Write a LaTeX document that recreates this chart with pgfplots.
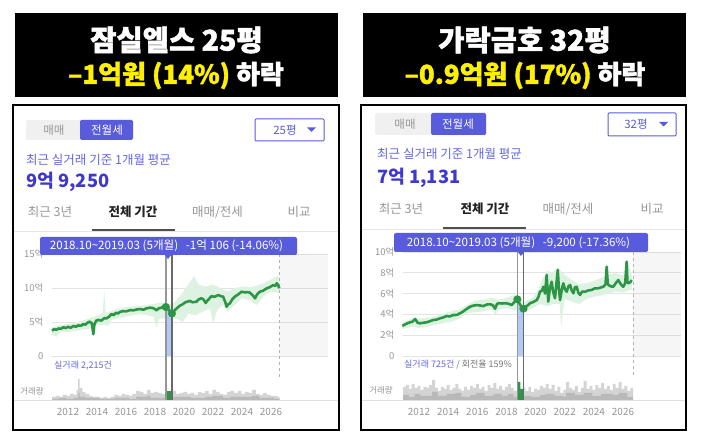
\documentclass[border=0pt]{standalone}
\usepackage{fontspec}
\setmainfont{Noto Sans CJK KR}
\newfontfamily\titlefont{Noto Sans CJK KR}[BoldFeatures={FakeBold=1.6}]
\usepackage{pgfplots}
\pgfplotsset{compat=1.18}
\definecolor{indigo}{RGB}{88,92,220}
\definecolor{uiblue}{RGB}{98,102,226}
\definecolor{bigblue}{RGB}{62,56,204}
\definecolor{txtgray}{RGB}{150,150,150}
\definecolor{tabdark}{RGB}{35,35,35}
\definecolor{lgreen}{RGB}{45,150,70}
\definecolor{bandgreen}{RGB}{222,242,225}
\definecolor{selblue}{RGB}{178,200,245}
\definecolor{ttyellow}{RGB}{255,240,0}
\definecolor{volgray}{RGB}{212,212,212}
\definecolor{voldark}{RGB}{185,185,185}
\definecolor{selgray}{RGB}{150,150,150}
\newcommand{\fs}[1]{\fontsize{#1}{#1}\selectfont}
\pgfplotsset{
  price/.style={scale only axis, clip=false, axis line style={draw=none}, major tick length=0pt,
    ymajorgrids, grid style={draw=gray!22, line width=0.6pt}, xtick=\empty,
    yticklabel style={font=\fs{9.5}, text=txtgray, xshift=-5pt},
    /pgf/number format/assume math mode=true},
  vol/.style={scale only axis, clip=false, axis line style={draw=none}, major tick length=0pt,
    ytick=\empty, ymin=0, ymax=22, xtick={2012,2014,2016,2018,2020,2022,2024,2026},
    xticklabels={2012,2014,2016,2018,2020,2022,2024,2026},
    xticklabel style={font=\fs{10}, text=txtgray, yshift=-5pt}}
}
\begin{document}
\begin{tikzpicture}[x=1pt,y=1pt]
\useasboundingbox (0,0) rectangle (702,442);
\fill[white] (0,0) rectangle (702,442);
\begin{scope}[shift={(0,442)}, y=-1pt]
  % title boxes
  \fill[black] (15,13) rectangle (338,97);
  \fill[black] (363,13) rectangle (686,97);
  \node[text=white, font=\titlefont\fs{28.5}\bfseries] at (176.5,40) {잠실엘스 25평};
  \node[font=\titlefont\fs{26}\bfseries] at (176,75.5) {\textcolor{ttyellow}{–1억원 (14\%)} \textcolor{white}{하락}};
  \node[text=white, font=\titlefont\fs{28.5}\bfseries] at (524.5,40) {가락금호 32평};
  \node[font=\titlefont\fs{26}\bfseries] at (525,75.5) {\textcolor{ttyellow}{–0.9억원 (17\%)} \textcolor{white}{하락}};
  % panels
  \draw[black, line width=2pt, fill=white] (13,105) rectangle (339,430);
  \draw[black, line width=2pt, fill=white] (361,105) rectangle (686,430);
  % left panel UI
  \fill[gray!12, rounded corners=1.5pt] (26,120) rectangle (133,140);
  \fill[indigo, rounded corners=1.5pt] (80,120) rectangle (133,140);
  \node[text=txtgray, font=\fs{11.5}] at (54,130) {매매};
  \node[text=white, font=\fs{11.5}] at (107,130) {전월세};
  \draw[indigo, line width=1pt, rounded corners=1pt] (255,119) rectangle (324,141);
  \node[text=indigo, font=\fs{11.5}] at (285,130) {25평};
  \fill[indigo] (307,127.5) -- (316,127.5) -- (311.5,132) -- cycle;
  \node[anchor=west, inner sep=0pt, text=uiblue, font=\fs{12.5}] at (26,160) {최근 실거래 기준 1개월 평균};
  \node[anchor=west, inner sep=0pt, text=bigblue, font=\fs{18.3}\bfseries] at (26,182) {9억 9,250};
  \node[text=txtgray, font=\fs{12.5}] at (50,212) {최근 3년};
  \node[text=tabdark, font=\fs{12.5}\bfseries] at (133,212) {전체 기간};
  \node[text=txtgray, font=\fs{12.5}] at (217.5,212) {매매/전세};
  \node[text=txtgray, font=\fs{12.5}] at (299,212) {비교};
  \draw[gray!20, line width=0.6pt] (14,231.5) -- (338,231.5);
  \draw[tabdark!80, line width=2pt] (92,230) -- (175,230);
  \node[anchor=west, inner sep=0pt, text=uiblue, font=\fs{9}] at (54,366) {실거래 2,215건};
  \node[text=txtgray, font=\fs{8.5}] at (32,391) {거래량};
  \draw[gray!25, line width=0.6pt] (14,400.5) -- (338,400.5);
  % right panel UI
  \fill[gray!12, rounded corners=1.5pt] (375,113) rectangle (486,135);
  \fill[indigo, rounded corners=1.5pt] (431,113) rectangle (486,135);
  \node[text=txtgray, font=\fs{11.5}] at (405,124) {매매};
  \node[text=white, font=\fs{11.5}] at (458,124) {전월세};
  \draw[indigo, line width=1pt, rounded corners=1pt] (608,113) rectangle (676,136);
  \node[text=indigo, font=\fs{11.5}] at (636,124.5) {32평};
  \fill[indigo] (659,122) -- (668,122) -- (663.5,126.5) -- cycle;
  \node[anchor=west, inner sep=0pt, text=uiblue, font=\fs{12.5}] at (377,154) {최근 실거래 기준 1개월 평균};
  \node[anchor=west, inner sep=0pt, text=bigblue, font=\fs{18.3}\bfseries] at (377,178) {7억 1,131};
  \node[text=txtgray, font=\fs{12.5}] at (401,209) {최근 3년};
  \node[text=tabdark, font=\fs{12.5}\bfseries] at (485,209) {전체 기간};
  \node[text=txtgray, font=\fs{12.5}] at (568,209) {매매/전세};
  \node[text=txtgray, font=\fs{12.5}] at (652,209) {비교};
  \draw[gray!20, line width=0.6pt] (362,229.5) -- (685,229.5);
  \draw[tabdark!80, line width=2pt] (443,228) -- (526,228);
  \node[anchor=west, inner sep=0pt, font=\fs{9}] at (404,365) {\textcolor{uiblue}{실거래 725건} \textcolor{txtgray!80!black}{/ 회전율 159\%}};
  \node[text=txtgray, font=\fs{8.5}] at (381,390) {거래량};
  \draw[gray!25, line width=0.6pt] (362,400.5) -- (685,400.5);
\end{scope}

% ===== left volume =====
\begin{axis}[vol, at={(52pt,42pt)}, anchor=south west, width=276pt, height=22pt, xmin=2010.9, xmax=2029.93]
\addplot[const plot, fill=volgray, draw=none] coordinates {
(2010.9,3)(2011.15,4)(2011.4,3)(2011.65,5)(2011.9,4)(2012.15,6)(2012.4,5)(2012.6,10)(2012.7,21)(2012.8,12)
(2013.0,8)(2013.2,6)(2013.45,4)(2013.7,3)(2013.95,3)(2014.2,2)(2014.45,3)(2014.7,2)(2014.95,3)(2015.2,5)
(2015.45,4)(2015.7,6)(2015.95,5)(2016.2,4)(2016.45,6)(2016.7,9)(2016.95,8)(2017.2,6)(2017.45,10)(2017.7,7)
(2017.95,8)(2018.2,7)(2018.45,6)(2018.75,2)(2019.17,9)(2019.45,6)(2019.7,7)(2019.95,8)(2020.2,6)(2020.45,7)
(2020.7,5)(2020.95,8)(2021.2,7)(2021.45,9)(2021.7,6)(2021.95,10)(2022.2,8)(2022.45,6)(2022.7,5)(2022.95,8)
(2023.2,9)(2023.45,7)(2023.7,9)(2023.95,6)(2024.2,8)(2024.45,7)(2024.7,10)(2024.95,6)(2025.2,5)(2025.45,7)
(2025.7,5)(2025.95,4)(2026.2,4)(2026.45,3)(2026.6,3)} \closedcycle;
\addplot[const plot, fill=voldark, draw=none] coordinates {
(2010.9,1)(2011.4,2)(2011.9,1)(2012.4,2)(2012.7,7)(2012.8,3)(2013.2,2)(2014.2,1)(2015.2,2)(2016.2,1)
(2016.7,3)(2017.45,4)(2017.7,2)(2018.45,2)(2018.75,0)(2019.17,3)(2019.95,3)(2020.45,2)(2021.45,3)(2021.95,4)
(2022.7,2)(2023.2,3)(2024.2,3)(2024.7,4)(2025.2,2)(2026.2,1)(2026.6,1)} \closedcycle;
\addplot[fill=lgreen, draw=none] coordinates {(2018.75,0)(2018.75,9)(2019.17,9)(2019.17,0)} -- cycle;
\end{axis}

% ===== left price =====
\begin{axis}[price, at={(52pt,86pt)}, anchor=south west, width=276pt, height=102pt,
  xmin=2010.9, xmax=2029.93, ymin=0, ymax=15, ytick={0,5,10,15}, yticklabels={0,5억,10억,15억}]
\addplot[fill=gray, fill opacity=0.07, draw=none] coordinates {(2026.6,0)(2029.93,0)(2029.93,15)(2026.6,15)} -- cycle;
\addplot[fill=bandgreen, draw=none] coordinates {
(2010.9,4.2)(2011.5,4.6)(2012.5,4.9)(2013.3,5.4)(2014.0,5.9)(2014.4,6.3)(2014.5,9.7)(2014.6,6.3)(2015.2,6.8)
(2016,7.2)(2017,7.4)(2017.8,7.6)(2018.5,7.9)(2019.2,7.6)(2019.8,9)(2020.3,10.5)(2020.7,11.8)(2021,10.5)
(2021.5,10.2)(2022,10.5)(2022.5,10)(2023,9.5)(2023.5,10)(2024,10.2)(2024.5,10.1)(2025,10.3)(2025.6,10.8)
(2026.2,11.5)(2026.57,11.8)
(2026.57,9.3)(2026,9.5)(2025.5,8.8)(2025,7.5)(2024.5,8.2)(2024,8.5)(2023.5,7.5)(2023,6.5)(2022.7,7.5)
(2022.3,6.8)(2022,4.8)(2021.8,7)(2021.3,6.5)(2020.8,6)(2020.3,6.2)(2019.9,5)(2019.5,5.5)(2019,5.5)
(2018.3,5.5)(2018.1,4.2)(2017.9,5.8)(2017,6.2)(2016,5.8)(2015,5.3)(2014.8,4.5)(2014,4.6)(2013.5,4)
(2012.8,3.8)(2012,3.5)(2011.5,3.6)(2011.2,2.8)(2010.9,3.2)} -- cycle;
\addplot[fill=selblue, draw=none] coordinates {(2018.75,0)(2018.75,7.0)(2019.17,7.0)(2019.17,0)} -- cycle;
\addplot[selgray, line width=1.5pt] coordinates {(2018.75,15.5)(2018.75,-6.47)};
\addplot[selgray!70!black, line width=1.5pt] coordinates {(2019.17,15.5)(2019.17,-6.47)};
\addplot[gray!60, dashed, line width=0.6pt] coordinates {(2026.6,15)(2026.6,-3.1)};
\addplot[lgreen, line width=2.6pt, line join=round] coordinates {
(2010.90,3.72)(2011.05,3.95)(2011.2,3.85)(2011.35,4.05)(2011.5,4.0)(2011.68,4.22)(2011.85,4.1)(2012.0,4.3)
(2012.2,4.15)(2012.37,4.41)(2012.55,4.3)(2012.7,4.5)(2012.9,4.45)(2013.06,4.7)(2013.2,4.6)(2013.35,4.9)
(2013.5,5.05)(2013.65,4.8)(2013.75,3.2)(2013.82,4.6)(2013.95,5.2)(2014.1,5.3)(2014.3,5.2)(2014.5,5.55)
(2014.67,5.54)(2014.85,5.8)(2015.0,6.18)(2015.15,6.0)(2015.3,6.35)(2015.45,6.25)(2015.6,6.5)(2015.8,6.6)
(2016.0,6.55)(2016.3,6.76)(2016.5,6.7)(2016.75,6.85)(2017.0,6.9)(2017.2,6.8)(2017.4,7.0)(2017.66,7.1)
(2017.85,7.05)(2018.0,6.9)(2018.1,6.7)(2018.25,7.0)(2018.45,7.1)(2018.6,7.3)(2018.75,7.2)(2018.9,6.9)
(2019.05,6.5)(2019.17,6.25)(2019.35,6.7)(2019.5,7.0)(2019.72,7.4)(2019.9,7.6)(2020.1,7.9)(2020.4,8.1)
(2020.6,7.9)(2020.87,8.0)(2021.0,8.3)(2021.2,8.5)(2021.35,8.3)(2021.5,7.8)(2021.6,8.1)(2021.9,8.8)
(2022.1,8.7)(2022.37,8.97)(2022.55,8.8)(2022.7,8.72)(2022.85,7.9)(2022.94,7.25)(2023.05,7.6)(2023.17,7.75)
(2023.35,8.4)(2023.5,8.72)(2023.7,9.0)(2023.98,9.46)(2024.2,9.35)(2024.4,9.4)(2024.55,9.3)(2024.75,8.9)
(2024.9,8.48)(2025.05,9.1)(2025.24,9.46)(2025.45,9.6)(2025.7,9.95)(2025.9,10.1)(2026.16,10.44)(2026.3,10.3)
(2026.4,10.7)(2026.5,10.4)(2026.57,9.95)};
\addplot[only marks, mark=*, mark size=3.8pt, lgreen] coordinates {(2018.75,7.2)(2019.17,6.25)};
\end{axis}

% ===== right volume =====
\begin{axis}[vol, at={(403pt,42pt)}, anchor=south west, width=278pt, height=22pt, xmin=2010.9, xmax=2029.98]
\addplot[const plot, fill=volgray, draw=none] coordinates {
(2010.9,13)(2011.1,15)(2011.3,11)(2011.5,16)(2011.7,12)(2011.9,14)(2012.1,10)(2012.3,13)(2012.5,12)(2012.7,15)
(2012.9,20)(2013.1,12)(2013.3,9)(2013.5,13)(2013.7,11)(2013.9,15)(2014.1,10)(2014.3,12)(2014.5,16)(2014.7,11)
(2014.9,9)(2015.1,13)(2015.3,10)(2015.5,14)(2015.7,12)(2015.9,16)(2016.1,11)(2016.3,13)(2016.5,9)(2016.7,15)
(2016.9,12)(2017.1,17)(2017.3,11)(2017.5,14)(2017.7,10)(2017.9,13)(2018.1,16)(2018.3,12)(2018.5,9)(2018.75,0)
(2019.17,12)(2019.3,9)(2019.5,13)(2019.7,8)(2019.9,11)(2020.1,10)(2020.3,14)(2020.5,12)(2020.7,16)(2020.9,11)
(2021.1,15)(2021.3,9)(2021.5,13)(2021.7,7)(2021.9,10)(2022.1,18)(2022.3,12)(2022.5,10)(2022.7,14)(2022.9,8)
(2023.1,12)(2023.3,19)(2023.5,11)(2023.7,14)(2023.9,10)(2024.1,15)(2024.3,12)(2024.5,17)(2024.7,11)(2024.9,14)
(2025.1,10)(2025.3,16)(2025.5,12)(2025.7,18)(2025.9,11)(2026.1,14)(2026.3,9)(2026.5,12)(2026.7,12)} \closedcycle;
\addplot[const plot, fill=voldark, draw=none] coordinates {
(2010.9,5)(2011.3,3)(2011.7,6)(2012.1,4)(2012.9,8)(2013.3,4)(2013.9,6)(2014.5,7)(2014.9,3)(2015.5,5)
(2015.9,7)(2016.5,4)(2017.1,6)(2017.7,4)(2018.1,6)(2018.5,3)(2018.75,0)(2019.17,4)(2019.7,3)(2020.3,5)
(2020.7,6)(2021.3,4)(2021.9,3)(2022.1,7)(2022.7,5)(2023.3,7)(2023.9,4)(2024.5,6)(2025.3,5)(2025.7,7)
(2026.3,3)(2026.7,3)} \closedcycle;
\addplot[fill=lgreen, draw=none] coordinates {(2018.75,0)(2018.75,18)(2018.96,18)(2018.96,11)(2019.17,11)(2019.17,0)} -- cycle;
\end{axis}

% ===== right price =====
\begin{axis}[price, at={(403pt,86pt)}, anchor=south west, width=278pt, height=104pt,
  xmin=2010.9, xmax=2029.98, ymin=0, ymax=10, ytick={0,2,4,6,8,10}, yticklabels={0,2억,4억,6억,8억,10억}]
\addplot[fill=gray, fill opacity=0.07, draw=none] coordinates {(2026.69,0)(2029.98,0)(2029.98,10)(2026.69,10)} -- cycle;
\addplot[fill=bandgreen, draw=none] coordinates {
(2010.85,3.2)(2011.5,3.6)(2012,3.6)(2012.8,3.7)(2013.5,4.0)(2014.2,4.3)(2014.8,4.5)(2015.3,4.9)(2015.8,5.3)
(2016.4,5.4)(2017,5.6)(2017.5,5.4)(2018,5.6)(2018.6,5.9)(2019.2,5.2)(2019.8,5.6)(2020.2,6.4)(2020.5,7.5)
(2020.8,8.2)(2021.2,8)(2021.5,8.5)(2022,7.8)(2022.5,7.3)(2023,6.9)(2023.5,7.0)(2024,7.2)(2024.5,7.5)
(2025,7.8)(2025.5,8.0)(2026,7.7)(2026.3,9.1)(2026.6,7.8)
(2026.6,6.4)(2026,6.1)(2025.5,6.2)(2025,6.0)(2024.5,5.8)(2024,5.7)(2023.5,5.5)(2023,5.0)(2022.5,5.2)
(2022,5.5)(2021.75,2.8)(2021.65,5.0)(2021.2,5.0)(2020.8,4.8)(2020.3,5.0)(2019.8,4.6)(2019.2,4.2)(2018.6,4.4)
(2018,4.6)(2017.5,4.5)(2017.25,4.0)(2017,4.5)(2016.4,4.3)(2015.8,4.2)(2015.3,4.1)(2014.8,3.6)(2014.2,3.3)
(2013.5,3.1)(2012.8,2.9)(2012,2.7)(2011.5,2.8)(2010.85,2.6)} -- cycle;
\addplot[fill=selblue, draw=none] coordinates {(2018.75,0)(2018.75,4.9)(2019.17,4.9)(2019.17,0)} -- cycle;
\addplot[selgray, line width=1.5pt] coordinates {(2018.75,10.3)(2018.75,-4.23)};
\addplot[selgray!70!black, line width=1.5pt] coordinates {(2019.17,10.3)(2019.17,-4.23)};
\addplot[gray!60, dashed, line width=0.6pt] coordinates {(2026.69,10)(2026.69,-2.0)};
\addplot[lgreen, line width=2.6pt, line join=round] coordinates {
(2010.85,2.91)(2011.0,3.0)(2011.2,3.15)(2011.38,3.24)(2011.55,3.3)(2011.73,3.56)(2011.9,3.2)(2012.07,3.14)
(2012.3,3.2)(2012.53,3.24)(2012.75,3.35)(2012.98,3.46)(2013.2,3.5)(2013.44,3.62)(2013.65,3.7)(2013.9,3.85)
(2014.1,3.8)(2014.35,3.94)(2014.6,3.95)(2014.8,4.1)(2015.0,4.25)(2015.16,4.42)(2015.35,4.6)(2015.5,4.74)
(2015.75,4.85)(2015.96,4.9)(2016.2,4.85)(2016.41,4.8)(2016.65,4.95)(2016.87,4.97)(2017.05,4.9)(2017.22,4.55)
(2017.35,5.0)(2017.44,5.07)(2017.7,5.05)(2018.0,5.07)(2018.2,5.0)(2018.36,4.9)(2018.55,5.2)(2018.75,5.45)
(2018.95,4.9)(2019.17,4.55)(2019.4,4.8)(2019.62,5.07)(2019.85,5.2)(2020.08,5.38)(2020.2,5.7)(2020.3,6.18)
(2020.45,6.3)(2020.53,6.66)(2020.65,6.0)(2020.76,7.79)(2020.87,5.22)(2020.98,6.5)(2021.1,7.14)(2021.2,6.2)
(2021.33,5.55)(2021.42,6.8)(2021.52,8.27)(2021.6,6.5)(2021.68,5.38)(2021.8,6.4)(2021.9,6.99)(2022.02,6.4)
(2022.14,6.18)(2022.25,6.7)(2022.37,6.83)(2022.48,6.3)(2022.6,6.03)(2022.7,6.6)(2022.82,6.66)(2022.93,6.1)
(2023.05,5.87)(2023.2,6.2)(2023.4,6.18)(2023.6,6.3)(2023.85,6.35)(2024.05,6.5)(2024.3,6.51)(2024.5,6.6)
(2024.65,6.66)(2024.8,6.9)(2024.88,8.59)(2024.95,7.0)(2024.99,6.83)(2025.15,6.7)(2025.33,6.66)(2025.5,7.0)
(2025.68,7.3)(2025.85,6.9)(2026.02,6.66)(2026.15,7.0)(2026.25,9.07)(2026.3,7.2)(2026.36,6.99)(2026.5,7.1)
(2026.6,7.3)};
\addplot[only marks, mark=*, mark size=3.8pt, lgreen] coordinates {(2018.75,5.45)(2019.17,4.55)};
\end{axis}

% tooltips on top
\begin{scope}[shift={(0,442)}, y=-1pt]
  \fill[indigo, rounded corners=2pt] (40,237) rectangle (297,255);
  \fill[indigo] (164,254) -- (172,254) -- (168,259) -- cycle;
  \node[text=white, font=\fs{11.6}] at (166.5,246) {2018.10\textasciitilde 2019.03 (5개월)\hspace{5pt} -1억 106 (-14.06\%)};
  \fill[indigo, rounded corners=2pt] (394,233) rectangle (648,252);
  \fill[indigo] (517,251) -- (525,251) -- (521,256) -- cycle;
  \node[text=white, font=\fs{11.6}] at (518.5,242.5) {2018.10\textasciitilde 2019.03 (5개월)\hspace{5pt} -9,200 (-17.36\%)};
\end{scope}
\end{tikzpicture}
\end{document}
